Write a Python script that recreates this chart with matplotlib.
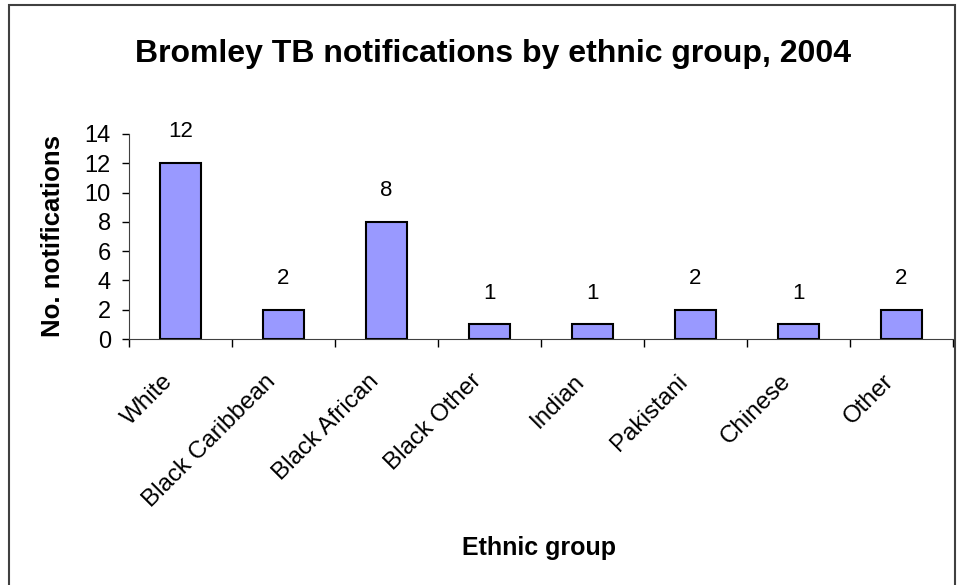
import matplotlib.pyplot as plt
from matplotlib.patches import Rectangle
from matplotlib.transforms import ScaledTranslation
import numpy as np

categories = ["White", "Black Caribbean", "Black African", "Black Other",
              "Indian", "Pakistani", "Chinese", "Other"]
counts = [12, 2, 8, 1, 1, 2, 1, 2]
y_ticks = [0, 2, 4, 6, 8, 10, 12, 14]

plt.rcParams["font.family"] = ["Liberation Sans", "DejaVu Sans"]

fig = plt.figure(figsize=(9.61, 5.85), dpi=100)
ax = fig.add_axes([0.1342, 0.4205, 0.8575, 0.3505])

x = np.arange(len(categories))
ax.bar(x, counts, width=0.405, color="#9999FF", edgecolor="black", linewidth=1.5)

for xi, v in zip(x, counts):
    ax.annotate(str(v), (xi, v), xytext=(0, 15), textcoords="offset points",
                ha="center", va="bottom", fontsize=16)

ax.set_xlim(-0.5, len(categories) - 0.5)
ax.set_ylim(0, 14)
ax.set_yticks(y_ticks)
ax.tick_params(axis="y", labelsize=17, direction="out", length=5, width=1, pad=8)

# ticks sit on category boundaries, labels at centres
ax.set_xticks(np.arange(len(categories) + 1) - 0.5)
ax.set_xticklabels([])
ax.set_xticks(x, minor=True)
ax.set_xticklabels(categories, minor=True, rotation=45, ha="right", va="center",
                   rotation_mode="anchor", fontsize=17.5)
ax.tick_params(axis="x", which="major", direction="out", length=6, width=1)
ax.tick_params(axis="x", which="minor", length=0, pad=28)

# nudge the slanted labels a little to the left
shift = ScaledTranslation(-8 / 72, 0, fig.dpi_scale_trans)
for lbl in ax.get_xticklabels(minor=True):
    lbl.set_transform(lbl.get_transform() + shift)

for s in ["top", "right"]:
    ax.spines[s].set_visible(False)
ax.spines["left"].set_color("#404040")
ax.spines["bottom"].set_color("#404040")

ax.set_ylabel("No. notifications", fontsize=18.5, fontweight="bold", va="center")
ax.yaxis.set_label_coords(-0.092, 0.5)

fig.text(0.561, 0.0513, "Ethnic group", ha="center", va="baseline",
         fontsize=18, fontweight="bold")
fig.text(0.5125, 0.894, "Bromley TB notifications by ethnic group, 2004",
         ha="center", va="baseline", fontsize=23, fontweight="bold")

fig.patches.append(Rectangle((0.0095, -0.01), 0.984, 1.001, transform=fig.transFigure,
                             fill=False, edgecolor="#404040", linewidth=1.5))

fig.savefig("out.png", dpi=100)
